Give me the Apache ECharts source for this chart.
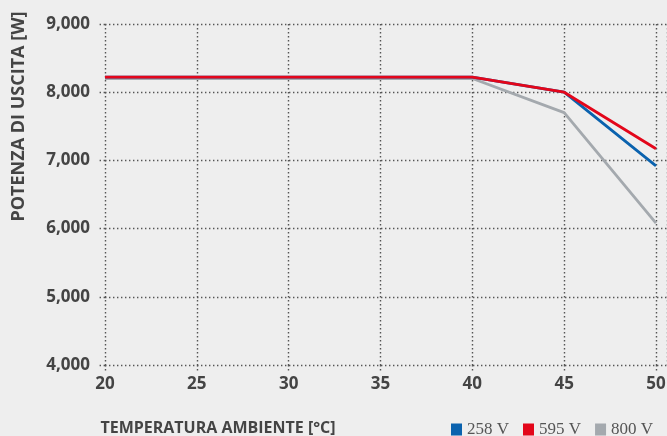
<!DOCTYPE html>
<html>
<head>
<meta charset="utf-8">
<script src="https://cdn.jsdelivr.net/npm/echarts@6/dist/echarts.min.js"></script>
<style>html,body{margin:0;padding:0;background:#eeeeee;}#c{width:667px;height:436px;}</style>
</head>
<body>
<div id="c"></div>
<script>
const temps = [20, 25, 30, 35, 40, 45, 50];
const v258 = [8220, 8220, 8220, 8220, 8220, 8000, 6920];
const v595 = [8220, 8220, 8220, 8220, 8220, 8000, 7170];
const v800 = [8200, 8200, 8200, 8200, 8200, 7700, 6080];
const seriesNames = ['258 V', '595 V', '800 V'];
const colors = ['#0a62ae', '#e3061a', '#a4a9ae'];
const yTicks = [4000, 5000, 6000, 7000, 8000, 9000];

const pairs = arr => temps.map((t, i) => [t, arr[i]]);
const chart = echarts.init(document.getElementById('c'));
const dotted = { color: '#555555', width: 1.4, type: [1.4, 2.6] };
const boldFont = { fontFamily: 'Open Sans', fontWeight: 'bold', color: '#444444' };
chart.setOption({
  backgroundColor: '#eeeeee',
  animation: false,
  grid: { left: 105, right: 0, top: 24, bottom: 71, outerBoundsMode: 'none', containLabel: false },
  legend: {
    left: 451, top: 421, padding: 0,
    itemWidth: 11, itemHeight: 12, itemGap: 14,
    icon: 'rect',
    textStyle: { fontFamily: 'Liberation Serif', fontSize: 17, color: '#555' },
    data: seriesNames
  },
  xAxis: {
    type: 'value', min: 20, max: 50.6, interval: 5,
    name: 'TEMPERATURA AMBIENTE [°C]', nameLocation: 'middle', nameGap: 55,
    nameTextStyle: Object.assign({ fontSize: 16, padding: [0, 336, 0, 0] }, boldFont),
    axisLine: { show: false },
    axisTick: { show: true, length: 7, lineStyle: dotted },
    axisLabel: Object.assign({ fontSize: 17, margin: 11, showMaxLabel: false }, boldFont),
    splitLine: { show: true, lineStyle: dotted }
  },
  yAxis: {
    type: 'value', min: yTicks[0], max: yTicks[yTicks.length - 1], interval: 1000,
    name: 'POTENZA DI USCITA [W]', nameLocation: 'middle', nameGap: 77, nameRotate: 90,
    nameTextStyle: Object.assign({ fontSize: 18, padding: [0, 0, 0, 156] }, boldFont),
    axisLine: { show: false },
    axisTick: { show: true, length: 8, lineStyle: dotted },
    axisLabel: Object.assign({ fontSize: 17, margin: 15,
      formatter: v => v.toLocaleString('en-US') }, boldFont),
    splitLine: { show: true, lineStyle: dotted }
  },
  series: [
    { name: seriesNames[0], type: 'line', data: pairs(v258), symbol: 'none', z: 3,
      lineStyle: { width: 2.8, color: colors[0] }, itemStyle: { color: colors[0] } },
    { name: seriesNames[1], type: 'line', data: pairs(v595), symbol: 'none', z: 4,
      lineStyle: { width: 2.8, color: colors[1] }, itemStyle: { color: colors[1] } },
    { name: seriesNames[2], type: 'line', data: pairs(v800), symbol: 'none', z: 2,
      lineStyle: { width: 2.8, color: colors[2] }, itemStyle: { color: colors[2] } }
  ]
});
</script>
</body>
</html>
